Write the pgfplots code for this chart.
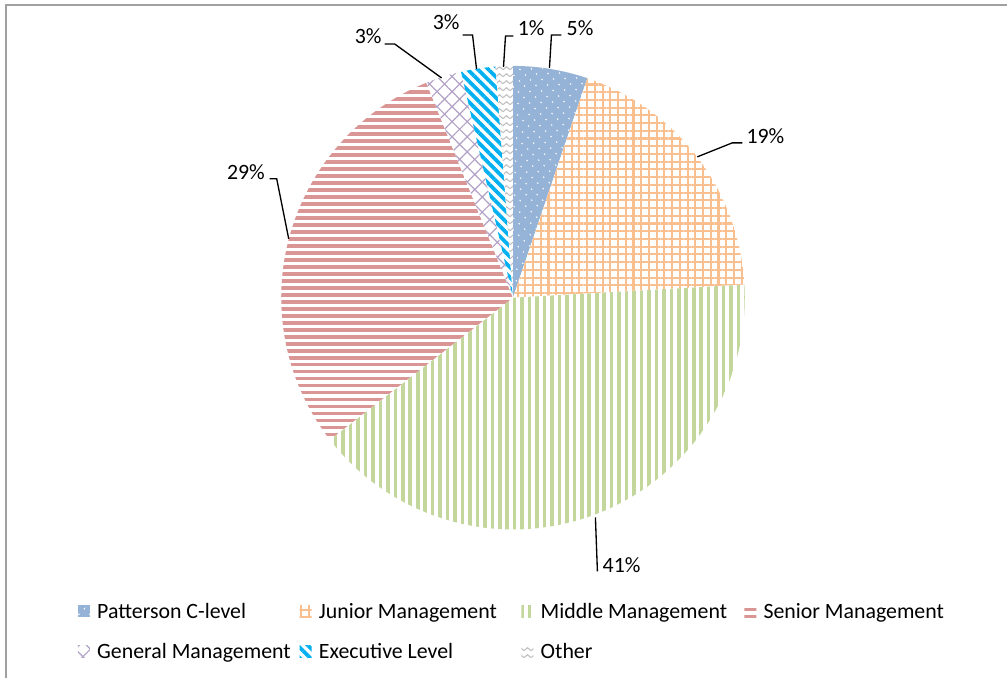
\documentclass[border=0pt]{standalone}
\usepackage{fontspec}
\setmainfont{Carlito}
\usepackage{pgfplots}
\pgfplotsset{compat=1.18}
\usetikzlibrary{patterns.meta}

\definecolor{cPat}{RGB}{149,179,215}
\definecolor{cJun}{RGB}{250,191,143}
\definecolor{cMid}{RGB}{195,214,155}
\definecolor{cSen}{RGB}{217,150,148}
\definecolor{cGen}{RGB}{179,162,199}
\definecolor{cExe}{RGB}{0,176,240}
\definecolor{cOth}{RGB}{191,191,191}
\definecolor{frame}{RGB}{160,160,160}

% zigzag fill for "Other"
\tikzdeclarepattern{
  name=zigzag, type=uncolored,
  bounding box={(0,0) and (5.25pt,5.25pt)},
  tile size={(5.25pt,5.25pt)},
  code={\draw[line width=0.8pt] (0,1pt) -- (2.625pt,3.2pt) -- (5.25pt,1pt);}
}

\tikzset{
  pC/.style={fill=cPat, postaction={pattern={Dots[angle=45,distance=6.4pt,radius=0.75pt]}, pattern color=white}},
  pJ/.style={fill=white, postaction={pattern={Hatch[angle=0,distance=5.8pt,line width=1.6pt]}, pattern color=cJun}},
  pM/.style={fill=white, postaction={pattern={Lines[angle=90,distance=5.6pt,line width=2.7pt]}, pattern color=cMid}},
  pS/.style={fill=white, postaction={pattern={Lines[angle=0,distance=5.25pt,line width=2.8pt]}, pattern color=cSen}},
  pG/.style={fill=white, postaction={pattern={Hatch[angle=45,distance=8pt,line width=0.9pt]}, pattern color=cGen}},
  pE/.style={fill=white, postaction={pattern={Lines[angle=-45,distance=5.5pt,line width=2.8pt]}, pattern color=cExe}},
  pO/.style={fill=white, postaction={pattern=zigzag, pattern color=cOth}},
  lbl/.style={anchor=base west, inner sep=0pt, font=\fontsize{16.4}{19}\selectfont},
  lead/.style={black, line width=1pt},
}

\begin{document}
\begin{tikzpicture}
\gdef\curang{90}
\begin{axis}[
  at={(0,0)}, anchor=south west,
  width=756pt, height=509.25pt, scale only axis,
  xmin=0, xmax=1008, ymin=0, ymax=679, y dir=reverse,
  hide axis, clip=false,
]
\fill[white] (axis cs:0,0) rectangle (axis cs:1008,679);
\draw[frame, line width=1.5pt] (axis cs:6.5,679) -- (axis cs:6.5,5.5) -- (axis cs:1008,5.5);

% slices, share in percent, clockwise from 12 o'clock
\pgfplotsextra{%
\foreach \v/\s in {5.2/pC, 18.9/pJ, 40.4/pM, 29.4/pS, 2.5/pG, 2.4/pE, 1.2/pO}{
  \pgfmathsetmacro\endang{\curang-3.6*\v}
  \path[\s] (axis cs:513.5,298) -- ++(\curang:174pt)
    arc[start angle=\curang, end angle=\endang, radius=174pt] -- cycle;
  \xdef\curang{\endang}
}%
% legend
\foreach \x/\y/\s/\t in {
  78/606/pC/Patterson C-level, 300/606/pJ/Junior Management,
  522/606/pM/Middle Management, 745/606/pS/Senior Management,
  78/646/pG/General Management, 300/646/pE/Executive Level,
  522/646/pO/Other}{
  \pgfmathsetmacro\xb{\x+12}
  \pgfmathsetmacro\yb{\y+12}
  \pgfmathsetmacro\xt{\x+19}
  \pgfmathsetmacro\yt{\y+13}
  \path[\s] (axis cs:\x,\y) rectangle (axis cs:\xb,\yb);
  \node[lbl] at (axis cs:\xt,\yt) {\t};
}%
}

% data labels and leader lines
\node[lbl] at (axis cs:567,36) {5\%};
\draw[lead] (axis cs:562,35) -- (axis cs:552,35) -- (axis cs:550,68);
\node[lbl] at (axis cs:518,36) {1\%};
\draw[lead] (axis cs:514,36) -- (axis cs:506,36) -- (axis cs:504,67);
\node[lbl] at (axis cs:433,30) {3\%};
\draw[lead] (axis cs:463,35) -- (axis cs:473,35) -- (axis cs:477,69);
\node[lbl] at (axis cs:355,44) {3\%};
\draw[lead] (axis cs:385,44) -- (axis cs:395,44) -- (axis cs:442,78);
\node[lbl] at (axis cs:747,144) {19\%};
\draw[lead] (axis cs:743,143) -- (axis cs:733,143) -- (axis cs:698,157);
\node[lbl] at (axis cs:227,180) {29\%};
\draw[lead] (axis cs:270,179) -- (axis cs:277,179) -- (axis cs:289,239);
\node[lbl] at (axis cs:603,573) {41\%};
\draw[lead] (axis cs:598,572) -- (axis cs:596,518);
\end{axis}
\end{tikzpicture}
\end{document}
